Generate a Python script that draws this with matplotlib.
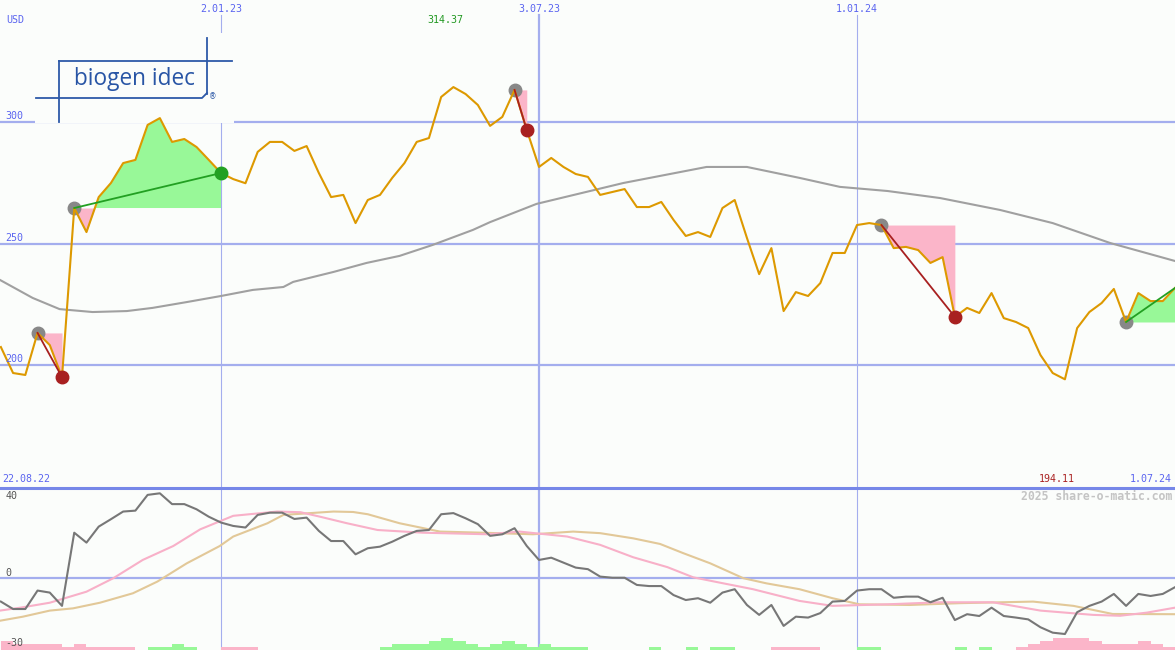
import matplotlib
matplotlib.use('Agg')
import matplotlib.pyplot as plt
import matplotlib.transforms as mtransforms
from matplotlib.patches import Rectangle
from matplotlib.lines import Line2D
import numpy as np

# weekly closes, week 1 = 22.08.22
weeks = np.arange(1, 98)
close = [207.4, 196.7, 195.9, 213.2, 208.2, 195.0, 264.6, 254.7, 269.1, 274.9,
         283.1, 284.4, 298.8, 301.6, 291.8, 293.0, 289.7, 284.4, 279.0, 276.5,
         274.8, 287.7, 291.8, 291.8, 288.1, 290.1, 279.0, 269.1, 270.0, 258.4,
         267.9, 270.0, 277.0, 283.1, 291.8, 293.4, 310.3, 314.37, 311.5, 307.0,
         298.4, 302.1, 313.2, 296.7, 281.5, 285.2, 281.5, 278.6, 277.4, 270.0,
         271.2, 272.4, 265.0, 265.0, 267.1, 259.7, 253.1, 254.7, 252.7, 264.6,
         267.9, 252.3, 237.4, 248.1, 222.2, 230.0, 228.4, 233.7, 246.1, 246.1,
         257.6, 258.4, 257.6, 248.1, 248.6, 247.3, 242.0, 244.4, 219.8, 223.5,
         221.4, 229.6, 219.3, 217.7, 215.2, 204.1, 196.7, 194.11, 215.2, 221.8,
         225.5, 231.3, 217.7, 229.6, 226.3, 226.3, 231.7]

# long moving average, read at selected weeks
ma_weeks = [0.93, 3.6, 5.8, 8.5, 11.3, 13.4, 16.2, 19.0, 21.6, 24.1, 24.9, 28.2, 30.9, 33.6,
            36.3, 39.6, 41.0, 44.8, 51.9, 58.7, 62.0, 66.3, 69.6, 73.5, 77.8, 82.7, 87.0, 91.7, 97.0]
ma_vals = [235.0, 227.6, 223.0, 221.8, 222.2, 223.5, 225.9, 228.4, 230.9, 232.1, 234.2, 238.3, 242.0, 244.9,
           249.4, 255.6, 258.8, 266.3, 274.9, 281.5, 281.5, 277.0, 273.3, 271.6, 268.7, 263.8, 258.4, 250.2, 242.8]

# trades (entry week, exit week); last one still open
trade_entry = [4, 7, 43, 73, 93]
trade_exit = [6, 19, 44, 79, 97]
trade_open = [False, False, False, False, True]

# lower panel
momentum = [-10.5, -13.8, -13.8, -5.6, -6.5, -12.4, 20.1, 15.7, 22.8, 26.1,
            29.5, 29.9, 36.9, 37.6, 32.8, 32.8, 30.5, 27.2, 24.6, 23.1,
            22.4, 28.0, 29.0, 29.0, 26.2, 26.8, 20.9, 16.4, 16.4, 10.5,
            13.2, 13.9, 16.1, 18.7, 20.9, 21.3, 28.3, 28.8, 26.5, 23.9,
            18.7, 19.4, 22.1, 14.2, 8.0, 9.0, 6.8, 4.6, 3.9, 0.6,
            0.1, 0.1, -3.1, -3.6, -3.6, -7.6, -9.8, -9.0, -11.0, -6.5,
            -5.0, -12.0, -16.4, -12.0, -21.3, -17.2, -17.6, -15.6, -10.5, -10.2,
            -5.6, -5.0, -5.0, -8.8, -8.3, -8.3, -10.8, -8.8, -18.7, -16.1,
            -16.9, -13.2, -16.9, -17.6, -18.4, -21.9, -24.3, -24.9, -15.2, -12.4,
            -10.5, -7.1, -12.4, -7.1, -8.0, -7.1, -4.1]
fast_weeks = [0.93, 2.6, 5.0, 8.0, 10.2, 12.6, 15.1, 17.3, 20.0, 23.6, 25.5, 27.1, 29.3, 31.8,
              35.5, 40.8, 43.4, 47.3, 50.0, 52.7, 55.5, 57.6, 59.8, 62.5, 66.3, 69.0, 73.5,
              77.8, 82.1, 86.0, 90.3, 92.5, 94.7, 97.0]
fast_vals = [-14.5, -13.2, -11.0, -6.1, -0.1, 8.0, 14.2, 21.6, 27.6, 29.5, 29.2, 27.2, 24.3, 21.3,
             20.1, 19.4, 20.6, 18.4, 14.7, 9.2, 4.8, 0.3, -2.1, -5.0, -10.2, -12.4, -11.7,
             -10.8, -10.8, -14.5, -16.4, -16.8, -15.4, -13.2]
slow_weeks = [0.93, 2.8, 5.0, 6.9, 9.1, 11.8, 13.8, 16.2, 18.9, 20.0, 22.8, 24.1, 28.2, 29.8,
              31.0, 33.6, 36.9, 40.4, 44.5, 47.8, 50.0, 52.7, 54.9, 56.8, 59.0, 61.7, 63.6,
              66.3, 69.0, 71.2, 75.3, 79.4, 85.4, 88.7, 91.9, 97.0]
slow_vals = [-19.0, -17.2, -14.5, -13.5, -11.0, -6.8, -1.6, 6.5, 14.2, 18.4, 24.3, 28.0, 29.5, 29.3,
             28.3, 24.3, 20.6, 20.1, 19.4, 20.6, 19.9, 17.6, 15.1, 11.0, 6.5, -0.1, -2.4,
             -5.0, -9.0, -11.7, -12.0, -11.2, -10.5, -12.4, -16.0, -16.1]
# histogram levels for weeks 1..96 (+ green, - pink)
hist_levels = [-3, -2, -2, -2, -2, -1, -2, -1, -1, -1,
               -1, 0, 1, 1, 2, 1, 0, 0, -1, -1,
               -1, 0, 0, 0, 0, 0, 0, 0, 0, 0,
               0, 1, 2, 2, 2, 3, 4, 3, 2, 1,
               2, 3, 2, 1, 2, 1, 1, 1, 0, 0,
               0, 0, 0, 1, 0, 0, 1, 0, 1, 1,
               0, 0, 0, -1, -1, -1, -1, 0, 0, 0,
               1, 1, 0, 0, 0, 0, 0, 0, 1, 0,
               1, 0, 0, -1, -2, -3, -4, -4, -4, -3,
               -2, -2, -2, -3, -2, -1]

date_weeks = [19, 45, 71]
date_labels = ['2.01.23', '3.07.23', '1.01.24']
date_widths = [0.8, 1.6, 0.8]
price_ticks = [300, 250, 200]

BG = '#fbfdfb'
GRID = '#a4aeee'
TXT = '#5a64f0'
PINK = '#fbb5c9'
LGREEN = '#98f898'
MONO = 'DejaVu Sans Mono'

fig = plt.figure(figsize=(11.75, 6.5), dpi=100, facecolor=BG)
ax = fig.add_axes([0, 163 / 650, 1, 487 / 650])
ax2 = fig.add_axes([0, 0, 1, 163 / 650])
for a in (ax, ax2):
    a.set_facecolor(BG)
    a.set_axis_off()
    a.set_xlim(0.93, 97.0)
ax.set_ylim(149.8, 350.2)
ax2.set_ylim(-32.0, 40.4)

# grid
for t in price_ticks:
    ax.axhline(t, color=GRID, lw=1.6, zorder=1)
ax2.axhline(0, color=GRID, lw=1.6, zorder=1)
for w, lw in zip(date_weeks, date_widths):
    ax.axvline(w, ymax=1 - 15 / 487, color=GRID, lw=lw, zorder=1)
    ax2.axvline(w, color=GRID, lw=lw, zorder=1)
fig.add_artist(Line2D([0, 1], [1 - 487.5 / 650] * 2, color='#7687e8', lw=2.2, zorder=3))

# logo (sits over the grid, under the data)
def fx(px):
    return px / 1175

def fy(py):
    return 1 - py / 650

ax.add_patch(Rectangle((fx(35), fy(123)), fx(199), 90 / 650, facecolor=BG, edgecolor='none',
                       transform=fig.transFigure, zorder=1.4))
LOGO = '#2e5aa8'
for xs, ys in [([207, 207], [38, 94]), ([59, 232], [61, 61]), ([59, 59], [61, 122]),
               ([36, 202, 207], [98, 98, 93])]:
    ax.add_line(Line2D([fx(v) for v in xs], [fy(v) for v in ys], color=LOGO, lw=1.3,
                       transform=fig.transFigure, zorder=1.5))
ax.text(fx(134.5), fy(79), 'biogen idec', ha='center', va='center', color='#2855a5', fontsize=16.3,
        family='Open Sans', fontweight='medium', transform=fig.transFigure, zorder=1.6)
ax.text(fx(213), fy(97), '®', ha='center', va='center', color='#2855a5', fontsize=5.5,
        transform=fig.transFigure, zorder=1.6)

# price + moving average
close_arr = np.array(close)
ax.plot(ma_weeks, ma_vals, color='#a0a0a0', lw=1.5, zorder=3)
ax.plot(weeks, close_arr, color='#dd9900', lw=1.5, zorder=4)

for e, x, is_open in zip(trade_entry, trade_exit, trade_open):
    i0, i1 = e - 1, x - 1
    seg_w = weeks[i0:i1 + 1]
    seg_p = close_arr[i0:i1 + 1]
    lvl = close_arr[i0]
    ax.fill_between(seg_w, seg_p, lvl, where=seg_p >= lvl, interpolate=True, color=LGREEN, lw=0, zorder=2)
    ax.fill_between(seg_w, seg_p, lvl, where=seg_p <= lvl, interpolate=True, color=PINK, lw=0, zorder=2)
    c = '#22a022' if close_arr[i1] > lvl else '#a82020'
    ax.plot(e, lvl, 'o', color='#888888', ms=9, zorder=3.5)
    ax.plot([e, x], [lvl, close_arr[i1]], color=c, lw=1.3, zorder=5)
    if not is_open:
        ax.plot(x, close_arr[i1], 'o', color=c, ms=9, zorder=6)

# labels main panel
tr = mtransforms.blended_transform_factory(ax.transAxes, ax.transData)
for t in price_ticks:
    ax.annotate(str(t), xy=(0, t), xycoords=tr, xytext=(4, 4.3), textcoords='offset points',
                va='center', ha='left', color=TXT, fontsize=7.2, family=MONO, zorder=7)
trx = mtransforms.blended_transform_factory(ax.transData, ax.transAxes)
for w, lab in zip(date_weeks, date_labels):
    ax.text(w, 1 - 9 / 487, lab, transform=trx, ha='center', va='center', color=TXT, fontsize=7.2, family=MONO)
ax.text(6 / 1175, 1 - 20 / 487, 'USD', transform=ax.transAxes, ha='left', va='center', color=TXT, fontsize=7.2, family=MONO)
ax.text(2 / 1175, 8 / 487, '22.08.22', transform=ax.transAxes, ha='left', va='center', color=TXT, fontsize=7.2, family=MONO)
ax.text(1 - 3 / 1175, 8 / 487, '1.07.24', transform=ax.transAxes, ha='right', va='center', color=TXT, fontsize=7.2, family=MONO)
imax = int(np.argmax(close_arr))
imin = int(np.argmin(close_arr))
ax.text(weeks[imax] - 0.65, 1 - 20 / 487, '%.2f' % close_arr[imax], transform=trx, ha='center', va='center',
        color='#229922', fontsize=7.2, family=MONO)
ax.text(weeks[imin] - 0.65, 8 / 487, '%.2f' % close_arr[imin], transform=trx, ha='center', va='center',
        color='#aa2222', fontsize=7.2, family=MONO)

# lower panel
lv = np.array(hist_levels)
ax2.bar(weeks[:-1], np.abs(lv) * 1.37, width=1.0, align='edge', bottom=-32.0,
        color=[LGREEN if v > 0 else PINK for v in lv], lw=0, zorder=2)
ax2.plot(slow_weeks, slow_vals, color='#e2c898', lw=1.5, zorder=3)
ax2.plot(fast_weeks, fast_vals, color='#f8b0c8', lw=1.5, zorder=3)
ax2.plot(weeks, momentum, color='#777777', lw=1.5, zorder=4)

tr2 = mtransforms.blended_transform_factory(ax2.transAxes, ax2.transData)
for val, off in [(40, -5.5), (0, 3.6), (-30, 1.8)]:
    ax2.annotate(str(val), xy=(0, val), xycoords=tr2, xytext=(4, off), textcoords='offset points',
                 va='center', ha='left', color='#555555', fontsize=7.2, family=MONO, zorder=7)
ax2.text(1 - 3 / 1175, 1 - 9 / 163, '2025 share-o-matic.com', transform=ax2.transAxes, ha='right', va='center',
         color='#c4c4c4', fontsize=8.3, family=MONO, fontweight='bold')

fig.savefig('out.png', dpi=100, facecolor=BG)
